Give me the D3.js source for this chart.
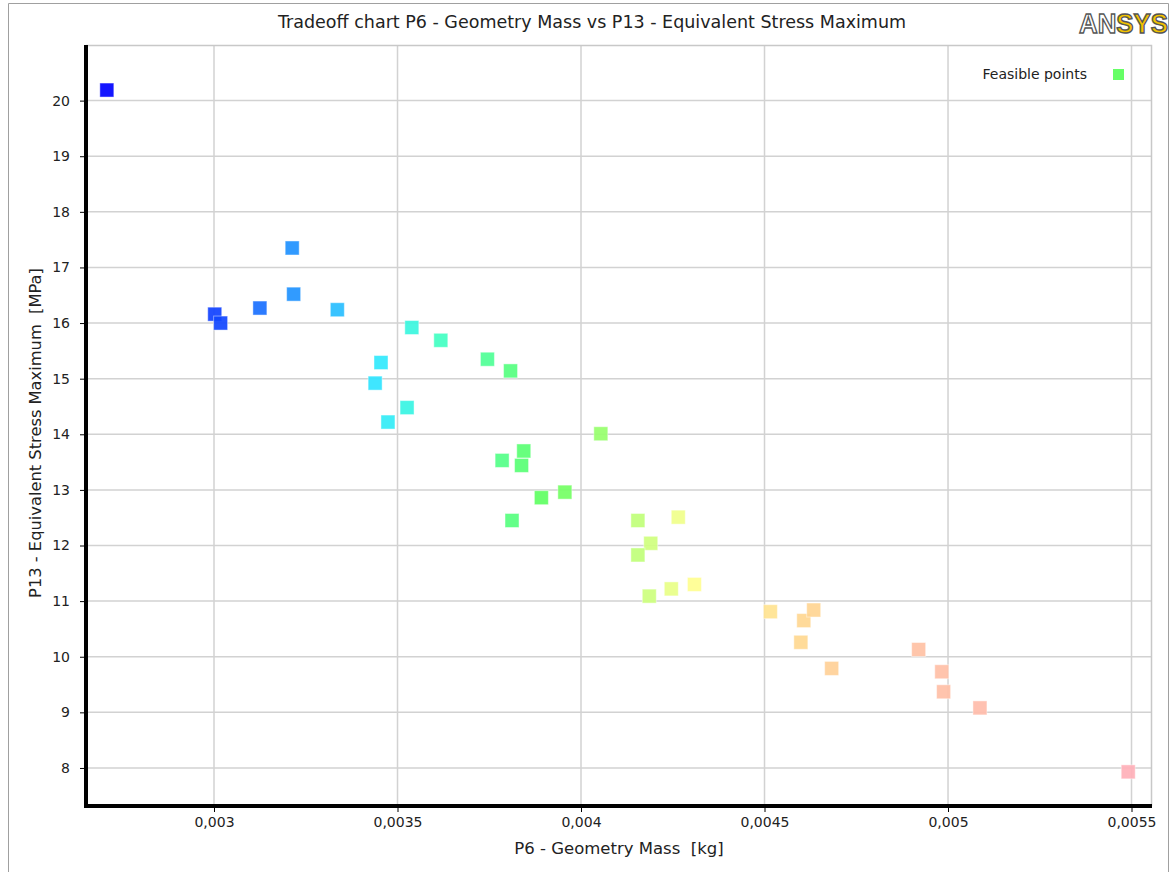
<!DOCTYPE html>
<html>
<head>
<meta charset="utf-8">
<script src="https://cdn.jsdelivr.net/npm/d3@7"></script>
<style>
  body { margin: 0; background: #fff; }
  svg { display: block; font-family: "DejaVu Sans", sans-serif; }
  .grid line { stroke: #d2d2d2; stroke-width: 1.5; }
  .tick text { fill: #222; font-family: "DejaVu Sans", sans-serif; }
</style>
</head>
<body>
<div id="chart"></div>
<script>
// mass [kg] of each design point
const mass = [
  0.002708, 0.003002, 0.003018, 0.003125, 0.003213, 0.003217, 0.003336,
  0.003439, 0.003455, 0.003474, 0.003526, 0.003539, 0.003618, 0.003745,
  0.003808, 0.003785, 0.003844, 0.003838, 0.003812, 0.003892, 0.003956,
  0.004054, 0.004155, 0.004265, 0.004190, 0.004155, 0.004186, 0.004246,
  0.004309, 0.004516, 0.004607, 0.004634, 0.004599, 0.004683, 0.004920,
  0.004983, 0.004988, 0.005087, 0.005491
];
// equivalent stress maximum [MPa]
const stress = [
  20.19, 16.16, 16.00, 16.27, 17.35, 16.52, 16.24,
  14.92, 15.29, 14.22, 14.48, 15.92, 15.69, 15.35,
  15.14, 13.53, 13.70, 13.44, 12.45, 12.86, 12.96,
  14.01, 12.45, 12.51, 12.04, 11.83, 11.09, 11.22,
  11.30, 10.81, 10.65, 10.84, 10.26, 9.79, 10.13,
  9.73, 9.37, 9.08, 7.93
];
const xTicks = [0.003, 0.0035, 0.004, 0.0045, 0.005, 0.0055];
const yTicks = [8, 9, 10, 11, 12, 13, 14, 15, 16, 17, 18, 19, 20];

const svgWidth = 1171;
const svgHeight = 872;
const plot = { left: 86, right: 1151, top: 45, bottom: 806 };

const svg = d3.select("#chart").append("svg")
  .attr("width", svgWidth)
  .attr("height", svgHeight);

// outer frame
svg.append("path")
  .attr("d", `M8.5,${svgHeight} V3.5 H1168.5 V${svgHeight}`)
  .attr("fill", "none")
  .attr("stroke", "#a0a0a0")
  .attr("stroke-width", 1);

const x = d3.scaleLinear()
  .domain([0.0026512, 0.0055531])
  .range([plot.left, plot.right]);

const y = d3.scaleLinear()
  .domain([7.316, 21.0])
  .range([plot.bottom, plot.top]);

// colour ramp along the tradeoff front
const color = d3.scaleLinear()
  .domain([0.0027, 0.003, 0.00321, 0.00345, 0.0036, 0.0039, 0.0041, 0.0043, 0.0046, 0.0048, 0.0055])
  .range(["#0000ff", "#1040ff", "#2090ff", "#30e8ff", "#40ffc8", "#60ff60", "#a8ff70",
          "#ffff90", "#ffd890", "#ffc4a0", "#ffb0b8"])
  .clamp(true);

// grid
const grid = svg.append("g").attr("class", "grid");
grid.selectAll("line.v")
  .data(xTicks)
  .join("line")
  .attr("class", "v")
  .attr("x1", d => x(d)).attr("x2", d => x(d))
  .attr("y1", plot.top).attr("y2", plot.bottom);
grid.selectAll("line.h")
  .data(yTicks)
  .join("line")
  .attr("class", "h")
  .attr("x1", plot.left).attr("x2", plot.right)
  .attr("y1", d => y(d)).attr("y2", d => y(d));

// plot border (top / right)
svg.append("path")
  .attr("d", `M${plot.left},${plot.top + 0.5} H${plot.right + 0.5} V${plot.bottom}`)
  .attr("fill", "none")
  .attr("stroke", "#c8c8c8")
  .attr("stroke-width", 1.5);

// points
const points = mass.map((m, i) => ({ m: m, s: stress[i] }));
const size = 14;
svg.append("g")
  .selectAll("rect")
  .data(points)
  .join("rect")
  .attr("x", d => x(d.m) - size / 2)
  .attr("y", d => y(d.s) - size / 2)
  .attr("width", size)
  .attr("height", size)
  .attr("fill", d => color(d.m))
  .attr("fill-opacity", 0.92)
  .attr("stroke", "#ffffff")
  .attr("stroke-opacity", 0.45)
  .attr("stroke-width", 1);

// axes
const fmt = d => d3.format("~g")(d).replace(".", ",");

const xAxis = svg.append("g")
  .attr("transform", `translate(0, ${plot.bottom})`)
  .call(d3.axisBottom(x).tickValues(xTicks).tickFormat(fmt).tickSize(6).tickSizeOuter(0));
xAxis.attr("font-family", null).attr("font-size", null);
xAxis.select(".domain").remove();
xAxis.selectAll(".tick text").attr("font-size", 14).attr("dy", "0.85em");
xAxis.selectAll(".tick line").attr("stroke", "#000");

const yAxis = svg.append("g")
  .attr("transform", `translate(${plot.left}, 0)`)
  .call(d3.axisLeft(y).tickValues(yTicks).tickSize(6).tickSizeOuter(0));
yAxis.attr("font-family", null).attr("font-size", null);
yAxis.select(".domain").remove();
yAxis.selectAll(".tick text").attr("font-size", 14).attr("x", -16);
yAxis.selectAll(".tick line").attr("stroke", "#000");

// thick axis lines
svg.append("line")
  .attr("x1", plot.left).attr("x2", plot.left)
  .attr("y1", plot.top).attr("y2", plot.bottom + 2)
  .attr("stroke", "#000").attr("stroke-width", 4);
svg.append("line")
  .attr("x1", plot.left - 2).attr("x2", plot.right + 1)
  .attr("y1", plot.bottom).attr("y2", plot.bottom)
  .attr("stroke", "#000").attr("stroke-width", 4);

// title
svg.append("text")
  .attr("x", 592)
  .attr("y", 28)
  .attr("text-anchor", "middle")
  .attr("font-size", 17.5)
  .attr("fill", "#222")
  .text("Tradeoff chart P6 - Geometry Mass vs P13 - Equivalent Stress Maximum");

// axis labels
svg.append("text")
  .attr("x", 619)
  .attr("y", 854)
  .attr("text-anchor", "middle")
  .attr("font-size", 16.5)
  .attr("fill", "#222")
  .attr("xml:space", "preserve")
  .text("P6 - Geometry Mass  [kg]");

svg.append("text")
  .attr("transform", "translate(41, 433) rotate(-90)")
  .attr("text-anchor", "middle")
  .attr("font-size", 16.3)
  .attr("fill", "#222")
  .attr("xml:space", "preserve")
  .text("P13 - Equivalent Stress Maximum  [MPa]");

// legend
svg.append("text")
  .attr("x", 1087)
  .attr("y", 79)
  .attr("text-anchor", "end")
  .attr("font-size", 14)
  .attr("fill", "#222")
  .text("Feasible points");
svg.append("rect")
  .attr("x", 1113).attr("y", 69)
  .attr("width", 11).attr("height", 11)
  .attr("fill", "#66ff66");

// logo
const logo = svg.append("text")
  .attr("x", 1079)
  .attr("y", 33)
  .attr("font-family", "Liberation Sans, Arial, sans-serif")
  .attr("font-weight", "bold")
  .attr("font-size", 28)
  .attr("stroke", "#555")
  .attr("stroke-width", 1.4)
  .attr("textLength", 89)
  .attr("lengthAdjust", "spacingAndGlyphs");
logo.append("tspan").attr("fill", "#fff").text("AN");
logo.append("tspan").attr("fill", "#f2c200").text("SYS");
</script>
</body>
</html>
